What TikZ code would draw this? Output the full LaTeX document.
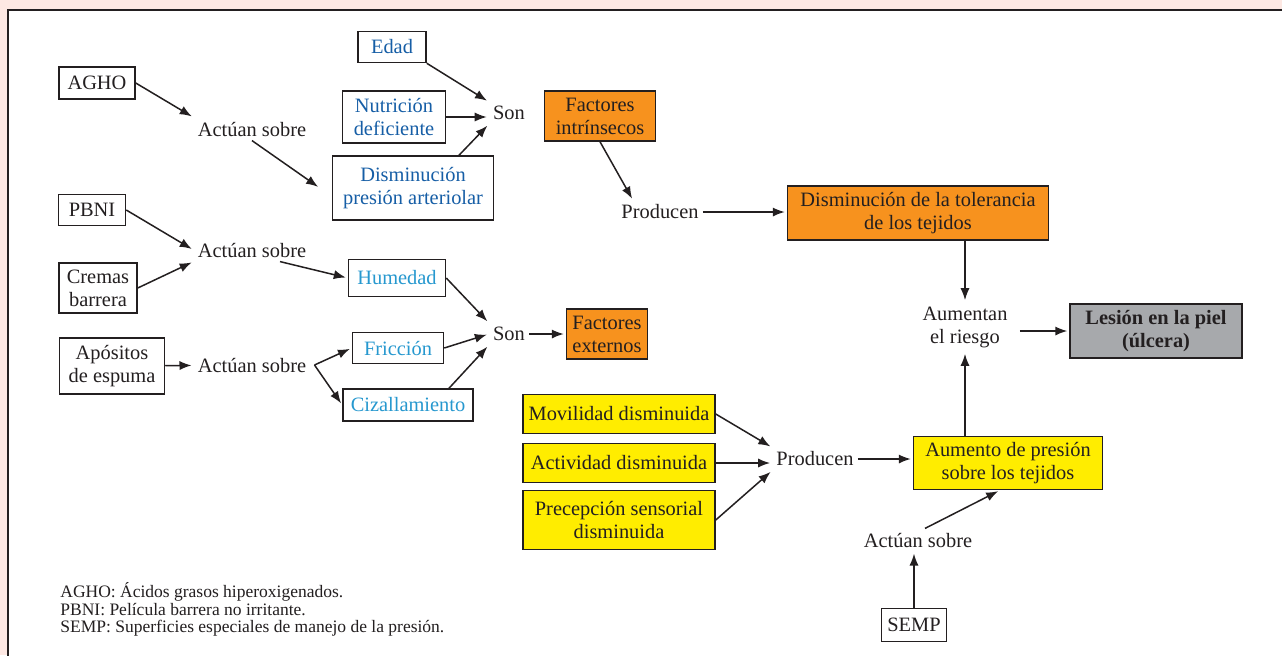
\documentclass[tikz,border=0pt]{standalone}
\usepackage{fontspec}
\setmainfont{Liberation Serif}
\usepackage{tikz}
\usetikzlibrary{arrows.meta}

\begin{document}
\begin{tikzpicture}[x=0.5pt,y=-0.5pt,
		>={Latex[length=6pt,width=4.6pt]},
		every node/.style={font=\fontsize{10.2}{11.5}\selectfont,inner sep=2pt,align=center},
		box/.style={draw=colLine,line width=0.75pt,fill=white,text=colLine},
		boxBlue/.style={box,text=colBlueDark},
		boxCyan/.style={box,text=colBlueLight},
		boxOrange/.style={box,fill=colOrange},
		boxYellow/.style={box,fill=colYellow},
		word/.style={text=colLine}]
		\definecolor{colBg}{RGB}{253,232,227}
		\definecolor{colLine}{RGB}{35,31,32}
		\definecolor{colBlueDark}{RGB}{22,94,166}
		\definecolor{colBlueLight}{RGB}{38,152,207}
		\definecolor{colOrange}{RGB}{247,146,30}
		\definecolor{colYellow}{RGB}{255,237,0}
		\definecolor{colGray}{RGB}{167,169,172}

		\useasboundingbox (0,0) rectangle (1282,655);
		\fill[colBg] (0,0) rectangle (1282,655);
		\draw[colLine,line width=1pt,fill=white] (8,10) rectangle (1300,680);

		\node[box,minimum width=38pt,minimum height=16pt] (agho) at (97,83) {AGHO};
		\node[word] (act1) at (252,129) {Actúan sobre};
		\node[boxBlue,minimum width=34pt,minimum height=15.5pt] (edad) at (392,47) {Edad};
		\node[boxBlue,minimum width=51.5pt,minimum height=26pt] (nutri) at (394,117) {Nutrición\\deficiente};
		\node[boxBlue,minimum width=80.5pt,minimum height=32pt] (dpa) at (413,188) {Disminución\\presión arteriolar};
		\node[word] (son1) at (509,113) {Son};
		\node[boxOrange,minimum width=55.5pt,minimum height=25pt] (fint) at (600,116) {Factores\\intrínsecos};
		\node[word] (prod1) at (660,212) {Producen};
		\node[boxOrange,minimum width=130.5pt,minimum height=27pt] (dtol) at (918,213) {Disminución de la tolerancia\\de los tejidos};

		\node[box,minimum width=33.5pt,minimum height=15.5pt] (pbni) at (92,210) {PBNI};
		\node[box,minimum width=39pt,minimum height=25pt] (cremas) at (98,288) {Cremas\\barrera};
		\node[word] (act2) at (252,250) {Actúan sobre};
		\node[boxCyan,minimum width=48.5pt,minimum height=18.5pt] (humedad) at (397,278) {Humedad};
		\node[box,minimum width=52.5pt,minimum height=28pt] (aposito) at (112,366) {Apósitos\\de espuma};
		\node[word] (act3) at (252,365) {Actúan sobre};
		\node[boxCyan,minimum width=45.5pt,minimum height=15.5pt] (friccion) at (398,348) {Fricción};
		\node[boxCyan,minimum width=65pt,minimum height=16pt] (cizalla) at (408,405) {Cizallamiento};
		\node[word] (son2) at (509,334) {Son};
		\node[boxOrange,minimum width=40.5pt,minimum height=25pt] (fext) at (607,334) {Factores\\externos};

		\node[word] (aument) at (965,327) {Aumentan\\el riesgo};
		\node[box,fill=colGray,minimum width=86pt,minimum height=27pt,font=\fontsize{10.2}{11.5}\selectfont\bfseries] (lesion) at (1156,331) {Lesión en la piel\\(úlcera)};

		\node[boxYellow,minimum width=96pt,minimum height=19.5pt] (movil) at (619,414) {Movilidad disminuida};
		\node[boxYellow,minimum width=96pt,minimum height=19.5pt] (activ) at (619,463) {Actividad disminuida};
		\node[boxYellow,minimum width=96pt,minimum height=29.5pt] (percep) at (619,520) {Precepción sensorial\\disminuida};
		\node[word] (prod2) at (815,459) {Producen};
		\node[boxYellow,minimum width=94.5pt,minimum height=26.5pt] (apres) at (1008,463) {Aumento de presión\\sobre los tejidos};
		\node[word] (act4) at (918,540) {Actúan sobre};
		\node[box,minimum width=32.5pt,minimum height=16.5pt] (semp) at (914,625) {SEMP};

		\node[word,anchor=west,align=left,font=\fontsize{8.75}{8.75}\selectfont] (notes) at (56,609.5) {AGHO: Ácidos grasos hiperoxigenados.\\PBNI: Película barrera no irritante.\\SEMP: Superficies especiales de manejo de la presión.};

		\begin{scope}[->,line width=0.75pt,draw=colLine,shorten >=1pt]
			\draw (agho.east) -- (act1.north west);
			\draw (act1.south) -- ([xshift=-6pt]dpa.west);
			\draw (edad.south east) -- (son1.north west);
			\draw (nutri.east) -- (nutri.east -| son1.west);
			\draw ([xshift=23pt]dpa.north) -- (son1.south west);
			\draw (fint.south) -- ([xshift=8pt]prod1.north west);
			\draw (prod1.east) -- (prod1.east -| dtol.west);
			\draw (aument.north |- dtol.south) -- (aument.north);
			\draw[shorten <=4pt] (aument.east |- lesion.west) -- (lesion.west);

			\draw (pbni.east) -- (act2.west);
			\draw (cremas.east) -- (act2.south west);
			\draw ([xshift=14pt]act2.south) -- (humedad.west);
			\draw (humedad.east) -- (son2.north west);
			\draw (aposito) -- (act3);
			\coordinate (split) at ([xshift=2pt]act3.east);
			\draw (split) -- (friccion.west);
			\draw (split) -- (cizalla.west);
			\draw (friccion.east) -- (son2.west);
			\draw ([xshift=20.5pt]cizalla.north) -- (son2.south west);
			\draw (son2) -- (fext);

			\draw (movil.east) -- (prod2.north west);
			\draw (activ.east) -- (activ.east -| prod2.west);
			\draw (percep.east) -- (prod2.south west);
			\draw (prod2.east) -- (prod2.east -| apres.west);
			\draw (aument.south |- apres.north) -- (aument.south);
			\draw ([xshift=3.5pt]act4.north) -- ([xshift=-4pt]apres.south);
			\draw (semp.north) -- (semp.north |- act4.south);
		\end{scope}
\end{tikzpicture}
\end{document}
